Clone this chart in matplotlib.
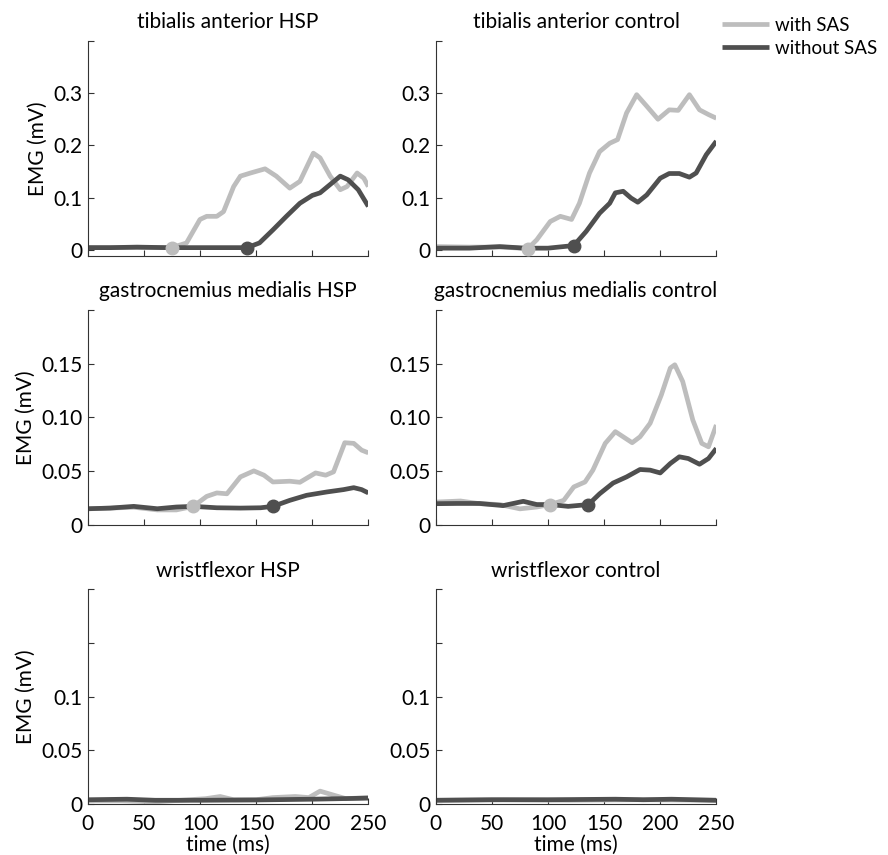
import matplotlib
matplotlib.use("Agg")
import matplotlib.pyplot as plt
import numpy as np

plt.rcParams['font.family'] = ['Lato', 'DejaVu Sans']

# ---- data (time in ms, EMG in mV) ----
titles = ['tibialis anterior HSP', 'tibialis anterior control',
          'gastrocnemius medialis HSP', 'gastrocnemius medialis control',
          'wristflexor HSP', 'wristflexor control']

# tibialis anterior HSP
ta_hsp_with_t = [0, 40, 75, 88, 100, 106, 115, 121, 130, 136, 145, 158, 168, 180, 189, 201, 207, 216, 225, 231, 240, 246, 250]
ta_hsp_with_v = [0.004, 0.004, 0.004, 0.013, 0.058, 0.064, 0.064, 0.073, 0.121, 0.141, 0.147, 0.155, 0.141, 0.118, 0.131, 0.185, 0.176, 0.141, 0.115, 0.121, 0.147, 0.137, 0.121]
ta_hsp_without_t = [0, 20, 44, 70, 100, 120, 142, 153, 165, 177, 189, 200, 207, 216, 225, 232, 241, 250]
ta_hsp_without_v = [0.004, 0.004, 0.005, 0.004, 0.004, 0.004, 0.004, 0.013, 0.038, 0.064, 0.089, 0.104, 0.109, 0.125, 0.141, 0.134, 0.115, 0.083]

# tibialis anterior control
ta_ctl_with_t = [0, 30, 60, 82, 90, 102, 111, 121, 128, 137, 146, 155, 162, 170, 179, 188, 198, 208, 216, 226, 235, 243, 250]
ta_ctl_with_v = [0.006, 0.005, 0.005, 0.002, 0.019, 0.054, 0.064, 0.058, 0.089, 0.147, 0.188, 0.204, 0.211, 0.262, 0.297, 0.275, 0.250, 0.268, 0.267, 0.297, 0.268, 0.259, 0.252]
ta_ctl_without_t = [0, 30, 57, 80, 100, 123, 134, 146, 155, 160, 167, 174, 180, 188, 200, 208, 217, 226, 232, 241, 250]
ta_ctl_without_v = [0.003, 0.003, 0.006, 0.003, 0.003, 0.008, 0.035, 0.070, 0.089, 0.109, 0.112, 0.099, 0.091, 0.105, 0.137, 0.146, 0.146, 0.139, 0.147, 0.182, 0.208]

# gastrocnemius medialis HSP
gm_hsp_with_t = [0, 20, 41, 62, 79, 94, 106, 115, 124, 136, 148, 157, 165, 180, 189, 203, 212, 219, 229, 237, 244, 250]
gm_hsp_with_v = [0.015, 0.0157, 0.0165, 0.014, 0.014, 0.0173, 0.0266, 0.0298, 0.029, 0.0447, 0.0503, 0.0463, 0.040, 0.0407, 0.0397, 0.0484, 0.0463, 0.0494, 0.0765, 0.0759, 0.0696, 0.0671]
gm_hsp_without_t = [0, 20, 41, 62, 79, 94, 115, 136, 154, 165, 180, 195, 213, 228, 237, 244, 250]
gm_hsp_without_v = [0.0151, 0.0157, 0.0173, 0.0151, 0.0167, 0.0173, 0.016, 0.0157, 0.016, 0.0173, 0.0229, 0.0276, 0.0307, 0.0329, 0.0347, 0.0329, 0.0298]

# gastrocnemius medialis control
gm_ctl_with_t = [0, 22, 39, 57, 75, 90, 102, 114, 123, 133, 140, 151, 160, 167, 175, 182, 191, 201, 209, 213, 220, 229, 237, 243, 250]
gm_ctl_with_v = [0.0213, 0.0223, 0.0198, 0.019, 0.015, 0.0167, 0.019, 0.0229, 0.0354, 0.040, 0.051, 0.0759, 0.0868, 0.082, 0.0765, 0.082, 0.0946, 0.121, 0.146, 0.149, 0.1335, 0.0977, 0.0759, 0.0727, 0.093]
gm_ctl_without_t = [0, 19, 39, 60, 78, 90, 102, 118, 136, 146, 158, 170, 182, 191, 200, 209, 217, 225, 235, 243, 250]
gm_ctl_without_v = [0.0198, 0.020, 0.020, 0.018, 0.022, 0.019, 0.019, 0.0173, 0.019, 0.029, 0.039, 0.0447, 0.0516, 0.051, 0.0484, 0.0572, 0.0634, 0.0618, 0.0565, 0.0618, 0.0712]

# wristflexor HSP
wf_hsp_with_t = [0, 30, 60, 90, 105, 118, 130, 150, 165, 185, 197, 207, 220, 230, 250]
wf_hsp_with_v = [0.003, 0.003, 0.002, 0.004, 0.005, 0.007, 0.004, 0.004, 0.006, 0.007, 0.006, 0.012, 0.008, 0.005, 0.006]
wf_hsp_without_t = [0, 35, 60, 100, 150, 200, 250]
wf_hsp_without_v = [0.004, 0.0045, 0.0035, 0.0035, 0.0038, 0.0045, 0.0055]

# wristflexor control
wf_ctl_with_t = [0, 60, 120, 180, 250]
wf_ctl_with_v = [0.0035, 0.004, 0.0035, 0.004, 0.0035]
wf_ctl_without_t = [0, 50, 100, 160, 185, 210, 250]
wf_ctl_without_v = [0.0035, 0.004, 0.004, 0.0045, 0.004, 0.0045, 0.0035]

# onset times (ms), None = no onset marked
onset_with = [75, 82, 94, 102, None, None]
onset_without = [142, 123, 165, 136, None, None]

series_with = [(ta_hsp_with_t, ta_hsp_with_v), (ta_ctl_with_t, ta_ctl_with_v),
               (gm_hsp_with_t, gm_hsp_with_v), (gm_ctl_with_t, gm_ctl_with_v),
               (wf_hsp_with_t, wf_hsp_with_v), (wf_ctl_with_t, wf_ctl_with_v)]
series_without = [(ta_hsp_without_t, ta_hsp_without_v), (ta_ctl_without_t, ta_ctl_without_v),
                  (gm_hsp_without_t, gm_hsp_without_v), (gm_ctl_without_t, gm_ctl_without_v),
                  (wf_hsp_without_t, wf_hsp_without_v), (wf_ctl_without_t, wf_ctl_without_v)]

# y axis setup per row
row_ylim = [(-0.012, 0.4), (0, 0.2), (0, 0.2)]
row_yticks = [[0, 0.1, 0.2, 0.3, 0.4], [0, 0.05, 0.10, 0.15, 0.2], [0, 0.05, 0.1, 0.15, 0.2]]
row_yticklabels = [['0', '0.1', '0.2', '0.3', ''], ['0', '0.05', '0.10', '0.15', ''], ['0', '0.05', '0.1', '', '']]

light = '#bdbdbd'
dark = '#4f4f4f'
fs = 15

fig = plt.figure(figsize=(8.88, 8.55), dpi=100)
lefts = [0.0988, 0.4907]
bottoms = [0.7006, 0.386, 0.0596]
w, h = 0.316, 0.2515

for i in range(6):
    r, c = divmod(i, 2)
    ax = fig.add_axes([lefts[c], bottoms[r], w, h])
    tw, vw = series_with[i]
    tn, vn = series_without[i]
    lw_line, = ax.plot(tw, vw, color=light, lw=3.4, solid_capstyle='butt', label='with SAS')
    ln_line, = ax.plot(tn, vn, color=dark, lw=3.4, solid_capstyle='butt', label='without SAS')
    if onset_with[i] is not None:
        ax.plot(onset_with[i], np.interp(onset_with[i], tw, vw), 'o', color=light, ms=9, zorder=5)
    if onset_without[i] is not None:
        ax.plot(onset_without[i], np.interp(onset_without[i], tn, vn), 'o', color=dark, ms=9, zorder=5)

    ax.set_xlim(0, 250)
    ax.set_ylim(*row_ylim[r])
    ax.set_xticks([0, 50, 100, 150, 200, 250])
    ax.set_yticks(row_yticks[r])
    ax.set_yticklabels(row_yticklabels[r])
    ax.spines['top'].set_visible(False)
    ax.spines['right'].set_visible(False)
    for s in ['left', 'bottom']:
        ax.spines[s].set_color('#333333')
        ax.spines[s].set_linewidth(0.8)
    ax.tick_params(direction='in', length=4, width=0.8, color='#333333', labelsize=fs)
    ax.tick_params(axis='y', pad=4)
    ax.tick_params(axis='x', pad=7)
    ax.set_title(titles[i], fontsize=fs, pad=9)
    if r < 2:
        ax.set_xticklabels([])
    else:
        ax.set_xlabel('time (ms)', fontsize=fs, labelpad=1)
    if c == 0:
        ax.set_ylabel('EMG (mV)', fontsize=fs, labelpad=4)
    if i == 0:
        handles = [lw_line, ln_line]

fig.legend(handles=handles, loc='upper left', bbox_to_anchor=(722 / 888, 1 - 17 / 855), frameon=False,
           fontsize=13.5, handlelength=2.5, handletextpad=0.35, labelspacing=0.3,
           borderpad=0, borderaxespad=0)

fig.savefig('out.png', dpi=100)
